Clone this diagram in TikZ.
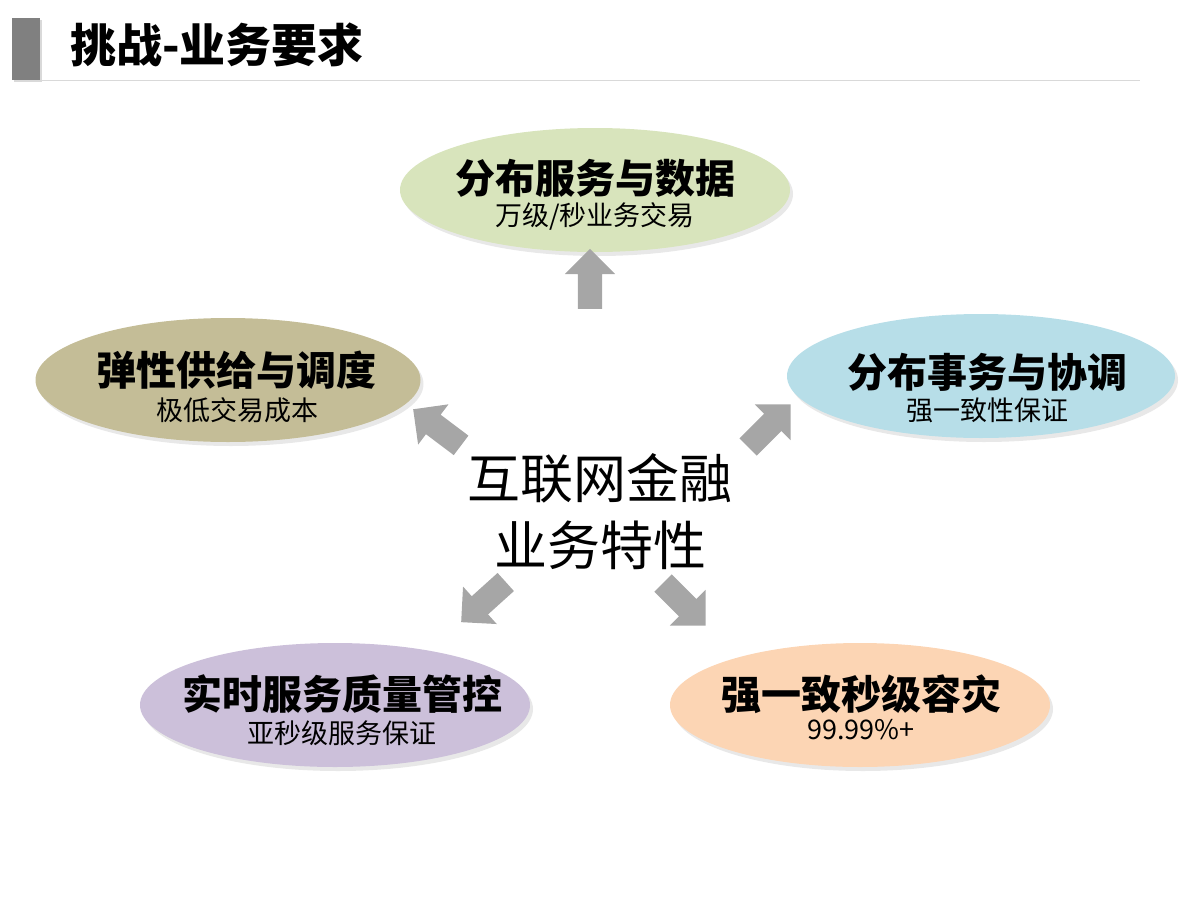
\documentclass[tikz,border=0pt]{standalone}
\usepackage{fontspec}
\setmainfont{Noto Sans CJK SC}
\usetikzlibrary{shapes.geometric,shapes.arrows,shadows}
\definecolor{cgreen}{RGB}{216,228,188}
\definecolor{ctan}{RGB}{196,189,151}
\definecolor{cblue}{RGB}{183,222,232}
\definecolor{clav}{RGB}{204,192,218}
\definecolor{cpeach}{RGB}{252,213,180}
\definecolor{carrow}{RGB}{166,166,166}
\definecolor{cbar}{RGB}{128,128,128}
\definecolor{cline}{RGB}{217,217,217}
\tikzset{
  bubble/.style={ellipse, inner sep=0pt, minimum width=#1, minimum height=124pt,
    align=center, drop shadow={opacity=0.18, shadow xshift=3pt, shadow yshift=-4pt}},
  bubble/.default=390pt,
  btitle/.style={font=\fontsize{40}{46}\selectfont\bfseries},
  bigarrow/.style={single arrow, fill=carrow, draw=none, inner sep=12pt,
    minimum height=60pt, minimum width=50pt, single arrow head extend=13pt,
    single arrow tip angle=90},
}
\newcommand{\bsub}{\fontsize{27}{32}\selectfont}
\begin{document}
\begin{tikzpicture}[x=1pt,y=-1pt]
\useasboundingbox (0,0) rectangle (1200,900);
% title
\fill[cbar, drop shadow={opacity=0.3, shadow xshift=2pt, shadow yshift=-2pt}] (12,18) rectangle (40,80);
\draw[cline, line width=1pt] (40,80) -- (1140,80);
\node[anchor=west, font=\fontsize{46}{52}\selectfont\bfseries, inner sep=0pt] (title) at (70,45) {挑战-业务要求};
% bubbles
\node[bubble, fill=cgreen] (top) at (595,190) {};
\node[btitle] at (595,178) {分布服务与数据};
\node[font=\bsub] at (595,216) {万级/秒业务交易};

\node[bubble=385pt, fill=ctan] (left) at (228,380) {};
\node[btitle] at (236,370) {弹性供给与调度};
\node[font=\bsub] at (237,410) {极低交易成本};

\node[bubble=388pt, fill=cblue] (right) at (981,376) {};
\node[btitle] at (987,372) {分布事务与协调};
\node[font=\bsub] at (987,410) {强一致性保证};

\node[bubble, fill=clav] (bl) at (335,705) {};
\node[btitle] at (342,694) {实时服务质量管控};
\node[font=\bsub] at (342,733) {亚秒级服务保证};

\node[bubble=380pt, fill=cpeach] (br) at (860,705) {};
\node[btitle] at (861,694) {强一致秒级容灾};
\node[font=\bsub] at (861,730) {99.99\%+};

% center
\node[align=center, font=\fontsize{53}{67}\selectfont, inner sep=0pt] (center) at (600,512) {互联网金融\\业务特性};

% arrows
\node[bigarrow, rotate=90] (aup) at (590,285) {};
\node[bigarrow, rotate=143] (aul) at (442,431) {};
\node[bigarrow, rotate=45] (aur) at (765,430) {};
\node[bigarrow, rotate=222] (all) at (488,598) {};
\node[bigarrow, rotate=-45] (alr) at (680,600) {};
\end{tikzpicture}
\end{document}
